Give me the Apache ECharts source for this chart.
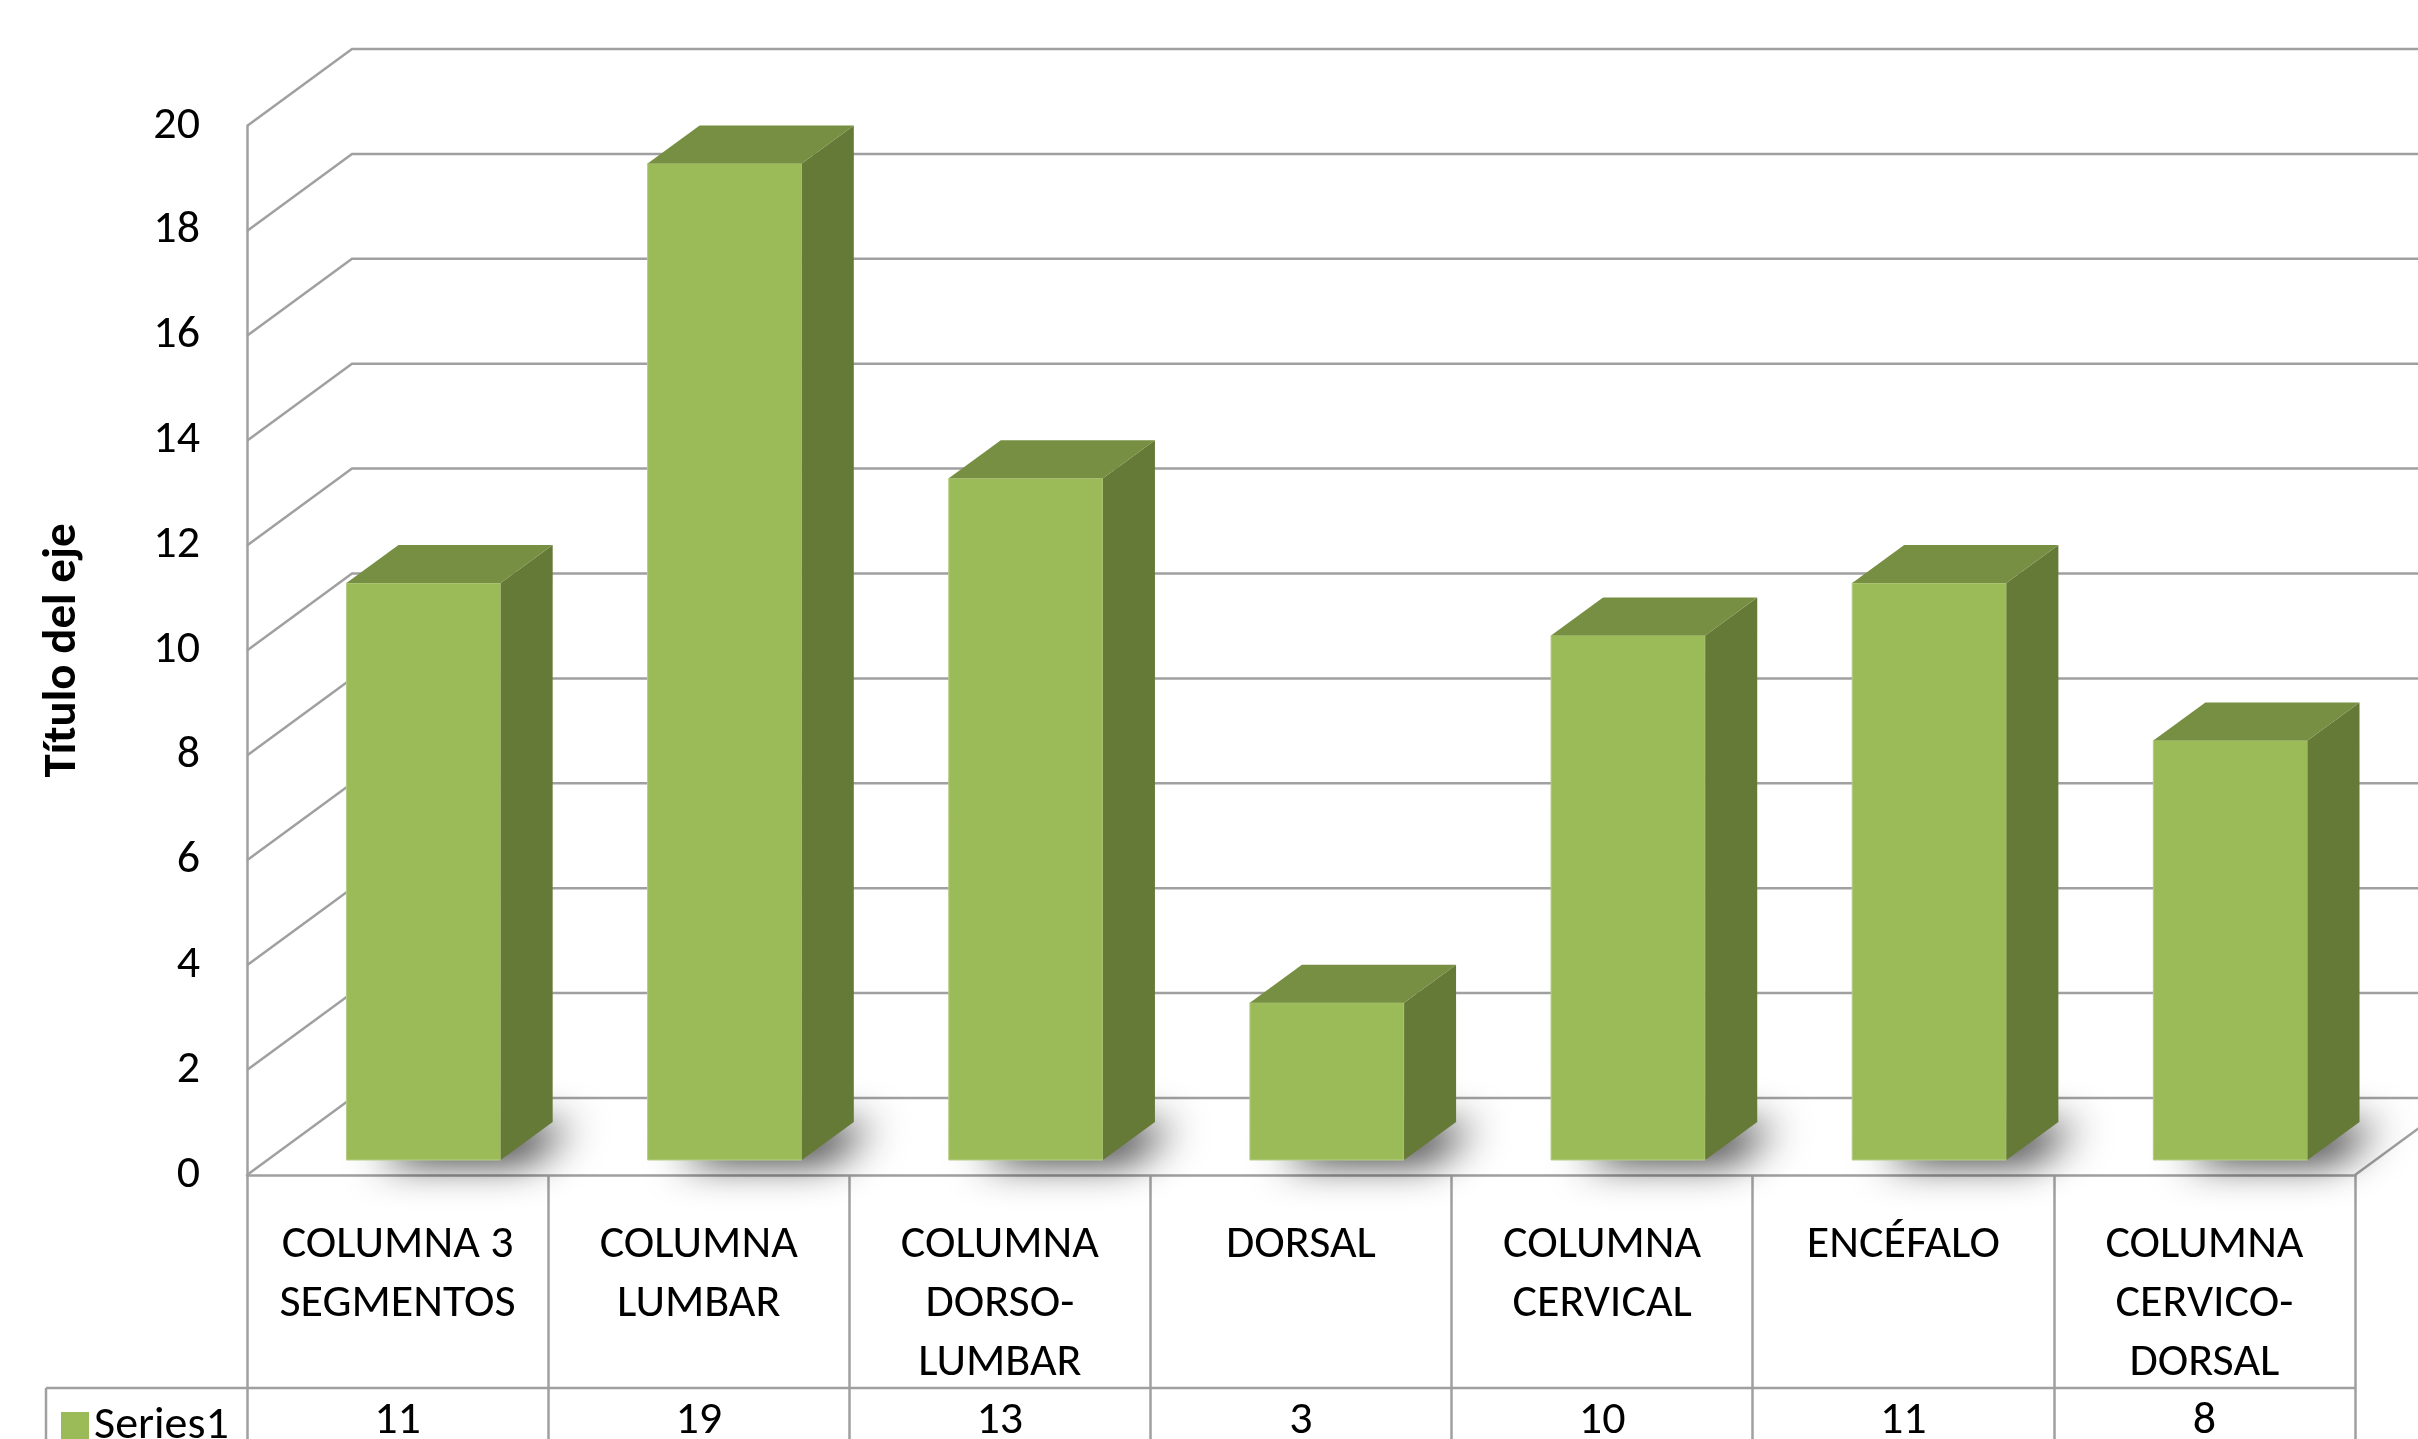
<!DOCTYPE html>
<html>
<head>
<meta charset="utf-8">
<title>Series1</title>
<script src="https://cdn.jsdelivr.net/npm/echarts@6/dist/echarts.min.js"></script>
<style>
  html, body { margin: 0; padding: 0; background: #fff; }
  #chart { width: 2418px; height: 1439px; }
</style>
</head>
<body>
<div id="chart"></div>
<script>
  // datos del gráfico
  var categories = ['COLUMNA 3\nSEGMENTOS', 'COLUMNA\nLUMBAR', 'COLUMNA\nDORSO-\nLUMBAR', 'DORSAL',
                    'COLUMNA\nCERVICAL', 'ENCÉFALO', 'COLUMNA\nCERVICO-\nDORSAL'];
  var values = [11, 19, 13, 3, 10, 11, 8];
  var yTicks = [0, 2, 4, 6, 8, 10, 12, 14, 16, 18, 20];
  var seriesName = 'Series1';

  var FONT = 'Carlito, Lato, sans-serif';
  var FS = 46;                     // tamaño de letra
  var GRID = '#A0A0A0';
  var DX = 105, DY = -77;          // profundidad de las paredes
  var FOX = 26, FOY = -15;         // desplazamiento de la cara frontal de la barra
  var BDX = 52, BDY = -38;         // profundidad de la barra
  var FRONT = '#9BBB59', SIDE = '#667A37', TOP = '#778F43';

  var chart = echarts.init(document.getElementById('chart'));

  // paredes y lineas de cuadricula
  function renderWall(params, api) {
    var cs = params.coordSys;
    var v = api.value(1);
    var y = api.coord([0, v])[1];
    var x0 = cs.x, x1 = cs.x + cs.width;
    var children = [{
      type: 'polyline',
      shape: { points: [[x0, y], [x0 + DX, y + DY], [x1 + DX + 100, y + DY]] },
      style: { stroke: GRID, lineWidth: 2.5, fill: null }
    }];
    if (v === 0) {
      children.push({
        type: 'line',
        shape: { x1: x1, y1: y, x2: x1 + DX, y2: y + DY },
        style: { stroke: GRID, lineWidth: 2.5 }
      });
    }
    return { type: 'group', children: children };
  }

  // barras 3D
  function renderBar(params, api) {
    var i = api.value(0);
    var base = api.coord([i, 0]);
    var top = api.coord([i, api.value(1)]);
    var band = api.size([1, 0])[0];
    var w = band * 0.512;
    var xl = base[0] - w / 2 + FOX, xr = xl + w;
    var yb = base[1] + FOY, yt = top[1] + FOY;
    return {
      type: 'group',
      children: [
        { // sombra en el suelo (la forma queda oculta tras la barra)
          type: 'polygon',
          shape: { points: [[xl + 6, yb - 3], [xr, yb - 3], [xr + BDX - 3, yb + BDY], [xl + BDX, yb + BDY]] },
          style: { fill: 'rgba(90,90,90,1)', shadowBlur: 40, shadowColor: 'rgba(0,0,0,0.9)', shadowOffsetX: 24, shadowOffsetY: 4 }
        },
        {
          type: 'rect',
          shape: { x: xl, y: yt, width: w, height: yb - yt },
          style: { fill: FRONT, stroke: '#B5CC85', lineWidth: 1 }
        },
        {
          type: 'polygon',
          shape: { points: [[xr, yb], [xr + BDX, yb + BDY], [xr + BDX, yt + BDY], [xr, yt]] },
          style: { fill: SIDE }
        },
        {
          type: 'polygon',
          shape: { points: [[xl, yt], [xr, yt], [xr + BDX, yt + BDY], [xl + BDX, yt + BDY]] },
          style: { fill: TOP }
        }
      ]
    };
  }

  // tabla de datos bajo el eje
  function renderTable(params, api) {
    var cs = params.coordSys;
    var i = api.value(0);
    var c = api.coord([i, 0]);
    var band = api.size([1, 0])[0];
    var yAxis = cs.y + cs.height;
    var rowTop = yAxis + 213;
    var children = [
      {
        type: 'line',
        shape: { x1: c[0] - band / 2, y1: rowTop, x2: c[0] + band / 2, y2: rowTop },
        style: { stroke: GRID, lineWidth: 2.5 }
      },
      {
        type: 'text',
        style: { x: c[0], y: rowTop + 33, text: String(api.value(1)), fill: '#000',
                 font: FS + 'px ' + FONT, align: 'center', verticalAlign: 'middle' }
      }
    ];
    if (i === 0) {
      var lx = 46;
      children.push({
        type: 'line',
        shape: { x1: lx, y1: rowTop, x2: cs.x, y2: rowTop },
        style: { stroke: GRID, lineWidth: 2.5 }
      });
      children.push({
        type: 'line',
        shape: { x1: lx, y1: rowTop, x2: lx, y2: rowTop + 100 },
        style: { stroke: GRID, lineWidth: 2.5 }
      });
    }
    return { type: 'group', children: children };
  }

  chart.setOption({
    animation: false,
    backgroundColor: '#fff',
    textStyle: { fontFamily: FONT },
    grid: { left: 247, top: 126, width: 2108, height: 1049 },
    legend: {
      data: [{ name: seriesName, icon: 'rect' }],
      left: 56, top: 1398,
      itemWidth: 28, itemHeight: 28, itemGap: 10,
      textStyle: { fontSize: FS, color: '#000', fontFamily: FONT }
    },
    xAxis: {
      type: 'category',
      data: categories,
      axisLine: { show: true, lineStyle: { color: GRID, width: 2.5 } },
      axisTick: { show: true, interval: 0, length: 270, lineStyle: { color: GRID, width: 2.5 } },
      axisLabel: { interval: 0, fontSize: FS, lineHeight: 59, color: '#000', margin: 41, fontFamily: FONT },
      splitLine: { show: false }
    },
    yAxis: {
      type: 'value',
      min: 0, max: 20, interval: 2,
      name: 'Título del eje',
      nameLocation: 'middle',
      nameRotate: 90,
      nameGap: 160,
      nameTextStyle: { fontSize: 47, fontWeight: 'bold', color: '#000', fontFamily: FONT },
      axisLine: { show: true, lineStyle: { color: GRID, width: 2.5 } },
      axisTick: { show: false },
      axisLabel: { fontSize: FS, color: '#000', margin: 47, fontFamily: FONT },
      splitLine: { show: false }
    },
    series: [
      {
        type: 'custom',
        silent: true,
        clip: false,
        z: 1,
        renderItem: renderWall,
        data: yTicks.map(function (v) { return [0, v]; })
      },
      {
        name: seriesName,
        type: 'custom',
        clip: false,
        z: 3,
        itemStyle: { color: FRONT },
        renderItem: renderBar,
        data: values.map(function (v, i) { return [i, v]; })
      },
      {
        type: 'custom',
        silent: true,
        clip: false,
        z: 2,
        renderItem: renderTable,
        data: values.map(function (v, i) { return [i, v]; })
      }
    ]
  });
</script>
</body>
</html>
